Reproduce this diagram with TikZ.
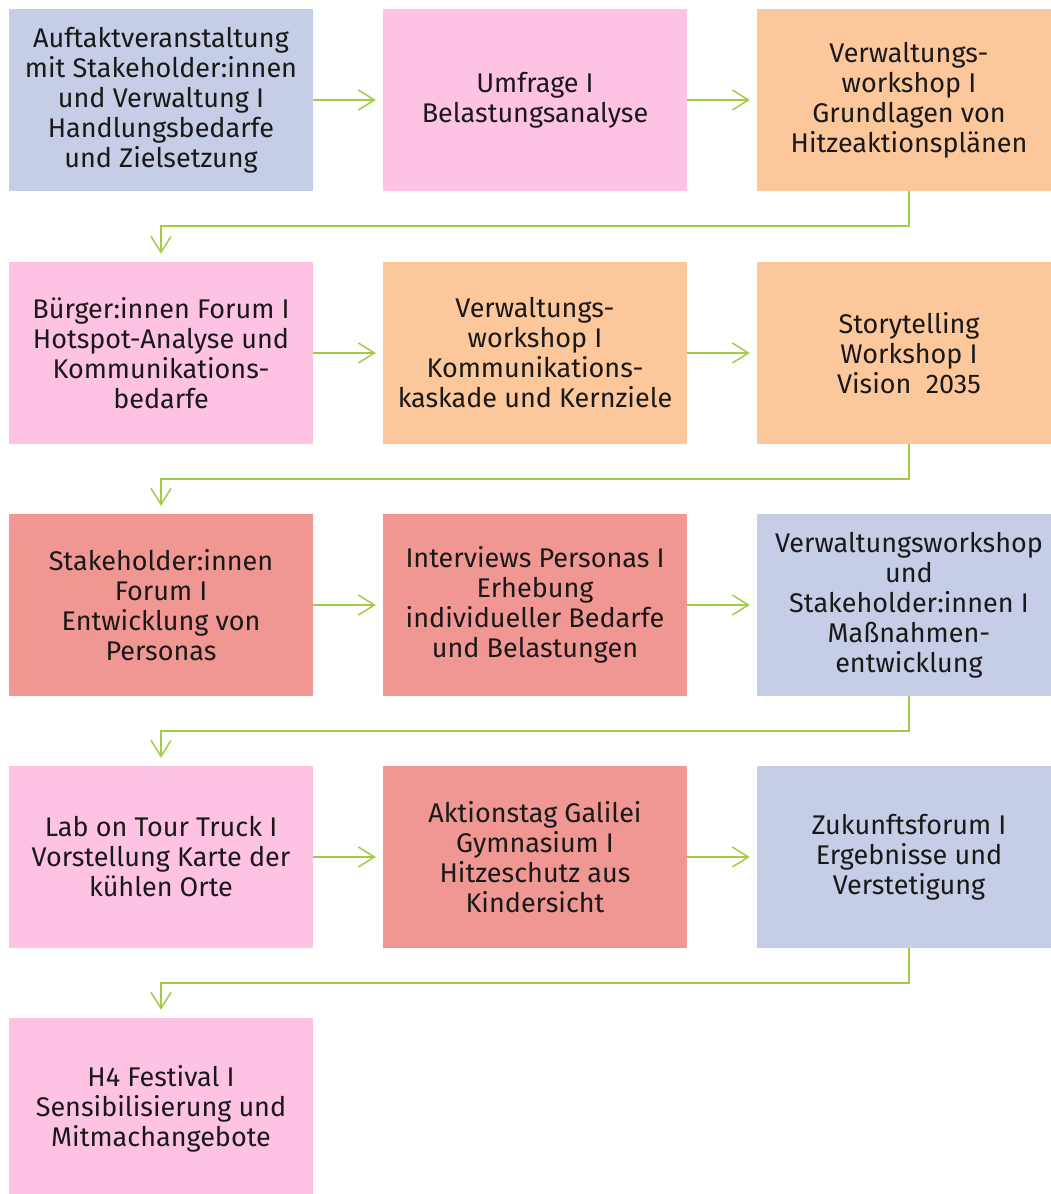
\documentclass[tikz,border=0pt]{standalone}
\usepackage{fontspec}
\setmainfont{Fira Sans}
\usetikzlibrary{arrows.meta}
\definecolor{cblue}{HTML}{C6CDE6}
\definecolor{cpink}{HTML}{FEC3E3}
\definecolor{corange}{HTML}{FCC79A}
\definecolor{cred}{HTML}{F09794}
\definecolor{cgreen}{HTML}{A3CB47}
\begin{document}
\begin{tikzpicture}[x=1pt,y=-1pt,
  stepbox/.style={minimum width=304pt,minimum height=182pt,inner sep=0pt,
    align=center,font=\fontsize{27}{30}\selectfont,text=black!90},
  bluebox/.style={stepbox,fill=cblue},
  pinkbox/.style={stepbox,fill=cpink},
  orangebox/.style={stepbox,fill=corange},
  redbox/.style={stepbox,fill=cred},
  flow/.style={draw=cgreen,line width=1.5pt,
    -{Straight Barb[length=16pt,width=20pt,line width=1.5pt]}},
  hflow/.style={flow,shorten >=7pt},
  vflow/.style={flow,shorten >=8pt}]
\useasboundingbox (0,0) rectangle (1051,1194);

% row 1
\node[bluebox]   (a1) at (161,100) {Auftaktveranstaltung\\mit Stakeholder:innen\\und Verwaltung I\\Handlungsbedarfe\\und Zielsetzung};
\node[pinkbox]   (a2) at (535,100) {Umfrage I\\Belastungsanalyse};
\node[orangebox] (a3) at (909,100) {Verwaltungs-\\workshop I\\Grundlagen von\\Hitzeaktionsplänen};
% row 2
\node[pinkbox]   (b1) at (161,353) {Bürger:innen Forum I\\Hotspot-Analyse und\\Kommunikations-\\bedarfe};
\node[orangebox] (b2) at (535,353) {Verwaltungs-\\workshop I\\Kommunikations-\\kaskade und Kernziele};
\node[orangebox] (b3) at (909,353) {Storytelling\\Workshop I\\Vision~~2035};
% row 3
\node[redbox]    (c1) at (161,605) {Stakeholder:innen\\Forum I\\Entwicklung von\\Personas};
\node[redbox]    (c2) at (535,605) {Interviews Personas I\\Erhebung\\individueller Bedarfe\\und Belastungen};
\node[bluebox]   (c3) at (909,605) {Verwaltungsworkshop\\und\\Stakeholder:innen I\\Maßnahmen-\\entwicklung};
% row 4
\node[pinkbox]   (d1) at (161,857) {Lab on Tour Truck I\\Vorstellung Karte der\\kühlen Orte};
\node[redbox]    (d2) at (535,857) {Aktionstag Galilei\\Gymnasium I\\Hitzeschutz aus\\Kindersicht};
\node[bluebox]   (d3) at (909,857) {Zukunftsforum I\\Ergebnisse und\\Verstetigung};
% row 5
\node[pinkbox]   (e1) at (161,1109) {H4 Festival I\\Sensibilisierung und\\Mitmachangebote};

% connectors within rows
\draw[hflow] (a1.east) -- (a2.west);
\draw[hflow] (a2.east) -- (a3.west);
\draw[hflow] (b1.east) -- (b2.west);
\draw[hflow] (b2.east) -- (b3.west);
\draw[hflow] (c1.east) -- (c2.west);
\draw[hflow] (c2.east) -- (c3.west);
\draw[hflow] (d1.east) -- (d2.west);
\draw[hflow] (d2.east) -- (d3.west);

% connectors between rows
\draw[vflow] (a3.south) -- ++(0,35) -| (b1.north);
\draw[vflow] (b3.south) -- ++(0,35) -| (c1.north);
\draw[vflow] (c3.south) -- ++(0,35) -| (d1.north);
\draw[vflow] (d3.south) -- ++(0,35) -| (e1.north);
\end{tikzpicture}
\end{document}
